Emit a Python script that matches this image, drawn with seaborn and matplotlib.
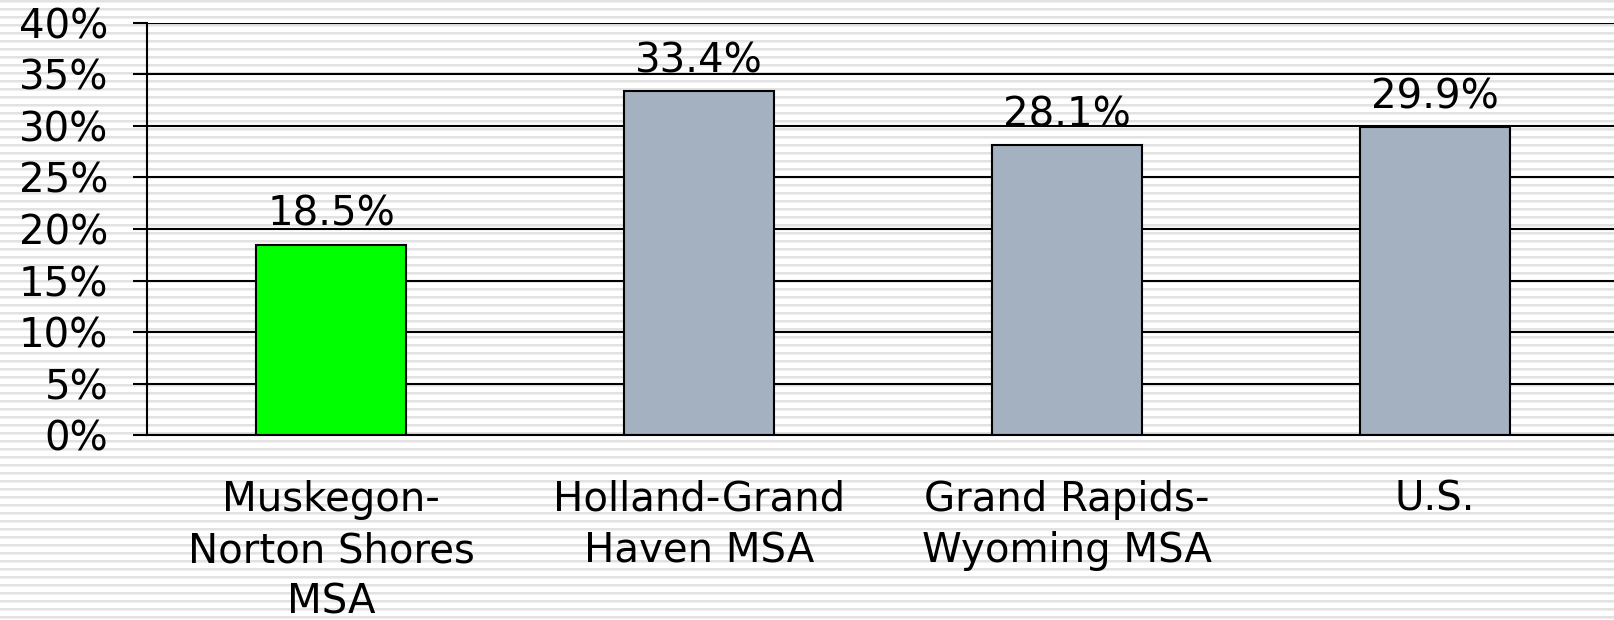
import numpy as np
import seaborn as sns
from matplotlib import pyplot as plt
from matplotlib.ticker import FixedLocator, FuncFormatter

# Chart data
categories = ['Muskegon-\nNorton Shores\nMSA', 'Holland-Grand\nHaven MSA',
              'Grand Rapids-\nWyoming MSA', 'U.S.']
values = [18.5, 33.4, 28.1, 29.9]
bar_colors = ['#00ff00', '#a3b1c0', '#a3b1c0', '#a3b1c0']
y_ticks = [0, 5, 10, 15, 20, 25, 30, 35, 40]

sns.set_style('white')
plt.rcParams['font.family'] = ['DejaVu Sans']
plt.rcParams['text.color'] = 'black'
plt.rcParams['xtick.color'] = 'black'
plt.rcParams['ytick.color'] = 'black'

fig = plt.figure(figsize=(16.14, 6.2), dpi=100)

# striped slide background
bg = fig.add_axes([0, 0, 1, 1])
rows = np.ones(620)
for r in range(620):
    if r % 8 in (0, 1):
        rows[r] = 0.89
    elif r % 8 == 2:
        rows[r] = 0.94
bg.imshow(np.repeat(rows[:, None], 3, axis=1)[:, :, None].repeat(3, axis=2),
          aspect='auto', interpolation='nearest', extent=[0, 1, 0, 1])
bg.axis('off')

ax = fig.add_axes([0.0912, 0.2977, 1.003 - 0.0912, 0.9635 - 0.2977])
ax.patch.set_alpha(0)

sns.barplot(x=categories, y=values, hue=categories, palette=bar_colors,
            legend=False, width=0.406, edgecolor='black', linewidth=1.5,
            saturation=1, ax=ax)

for cont in ax.containers:
    ax.bar_label(cont, fmt='%.1f%%', padding=7, fontsize=29, color='black')

ax.set_xlim(-0.5, len(categories) - 0.5)
ax.set_ylim(0, 40)
ax.yaxis.set_major_locator(FixedLocator(y_ticks))
ax.yaxis.set_major_formatter(FuncFormatter(lambda v, p: f'{v:.0f}%'))
ax.yaxis.grid(True, color='black', linewidth=1.5)
ax.set_axisbelow(True)

ax.set_xticks(np.arange(len(categories) + 1) - 0.5, minor=True)
ax.tick_params(axis='x', which='major', length=0, pad=32, labelsize=29)
ax.tick_params(axis='x', which='minor', length=10, width=1.5, color='black', direction='out')
ax.tick_params(axis='y', length=10, width=1.5, color='black', direction='out',
               pad=18, labelsize=29, left=True)
for lbl in ax.get_xticklabels():
    lbl.set_linespacing(1.36)
ax.set_xlabel('')
ax.set_ylabel('')

for side in ['top', 'right']:
    ax.spines[side].set_visible(False)
for side in ['left', 'bottom']:
    ax.spines[side].set_color('black')
    ax.spines[side].set_linewidth(1.5)

fig.savefig('out.png', dpi=100)
